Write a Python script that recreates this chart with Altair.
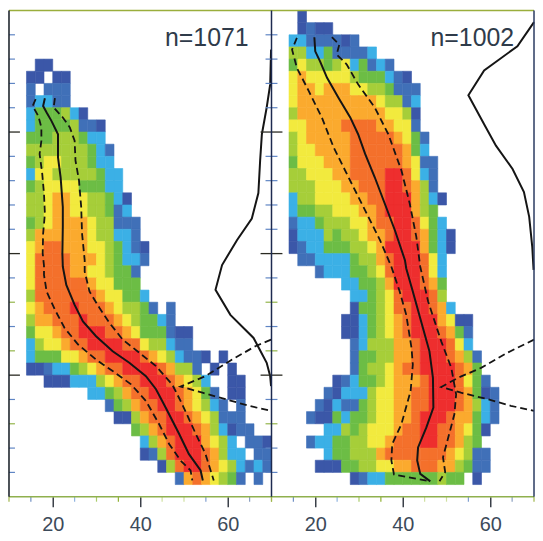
import altair as alt
import pandas as pd

# heat-map cells: first column index per row, then colour level per column ('.' = empty)
left_rows = {
    4: (3, "00"), 5: (2, "00.00"), 6: (2, "1.111"), 7: (2, "12211"),
    8: (2, "2333420"), 9: (2, "233334110"), 10: (2, "333444322"),
    11: (2, "4444444321"), 12: (2, "3455444322"), 13: (2, "25544444322"),
    14: (2, "34555533322"), 15: (2, "445665544320"), 16: (2, "445665544312"),
    17: (2, "3456666544111"), 18: (2, "4666666544221"), 19: (2, "56776665543210"),
    20: (2, "57777666543221"), 21: (2, "5777766554331"), 22: (2, "5777777655333"),
    23: (2, "47777777655332"), 24: (2, "56777877765443" + "1.1"),
    25: (2, "46677787776543321"), 26: (2, "3556778887765333100"),
    27: (2, "2455677888877544211"), 28: (2, "233355677888876542110.0"),
    29: (2, "00122345677888876441.0.0"), 30: (4, "000222456778887654" + "2..00"),
    31: (9, "223467788876531.00"), 32: (11, "13467788765421.1"),
    33: (12, "004677887654111"), 34: (14, "34678887642011"),
    35: (15, "24678886542.110"), 36: (15, "014788876422.11"),
    37: (17, "0478876542121"), 38: (19, "16765431.1"),
}
right_rows = {
    0: (3, "0"), 1: (3, "0100"), 2: (2, "22111101"), 3: (2, "4422311112"),
    4: (2, "354434523121"), 5: (2, "56555554333210"), 6: (2, "566566655443111"),
    7: (2, "566666666654412"), 8: (2, "466666666665540"), 9: (2, "556666777766551"),
    10: (2, "4566666777776531"), 11: (2, "4556666777777632"), 12: (2, "35556667777776511"),
    13: (2, "44555667777887521"), 14: (2, "44455566777887641"), 15: (2, "244555566778886420"),
    16: (2, "23344555667888643"), 17: (2, "122344455677887532"), 18: (2, "0222434456678876320"),
    19: (2, "0122333445688886320"), 20: (3, "11222234467888752"), 21: (5, "122233457888752"),
    22: (8, "223346888763"), 23: (9, "22345788874"), 24: (9, "033457788762"),
    25: (8, "002345678886500"), 26: (8, "002345678887631"), 27: (9, "12444667888752"),
    28: (9, "133446678887641"), 29: (9, "134456778888763"), 30: (7, "012334566678887531"),
    31: (6, "10222455667788876301"), 32: (5, "102113455667788876421"),
    33: (4, "1003233455667888766321"), 34: (6, "2243455567788776530"),
    35: (4, "12233445567778877643"), 36: (6, "2334446777777765411"),
    37: (5, "00033445566777664311"), 38: (9, "0122333333433.0"),
}
level_colors = ["#3b57a8", "#4070b8", "#3bb0e6", "#6cbd45", "#a6ce39",
                "#f2ea3e", "#fbaa2e", "#f4702b", "#ee2e2e"]

# curves: (x, altitude)
L_med_x = [18.2,17.8,18.6,19.7,21.2,21.2,21.8,22.3,22.3,22.2,22.3,23.1,25.0,26.9,29.9,33.7,37.5,41.3,43.6,45.8,48.9,51.1,53.8,54.3]
L_med_y = [16.39,16.07,15.80,15.46,14.91,13.96,13.14,11.92,11.10,10.01,9.46,8.71,7.89,7.21,6.60,5.98,5.51,4.96,4.42,3.67,2.58,1.76,1.08,0.67]
L_lo_x = [16.1,15.4,16.7,17.4,17.4,17.0,17.6,18.0,18.2,17.8,17.7,18.0,18.0,18.6,20.5,22.7,25.8,29.9,33.7,37.9,41.3,44.3,46.6,49.2,51.5,51.9]
L_lo_y = [16.35,16.07,15.66,15.19,14.64,14.10,13.28,12.46,11.64,10.82,10.01,9.50,9.12,8.44,7.69,6.94,6.26,5.64,5.17,4.62,3.94,2.99,2.17,1.49,1.08,0.67]
L_hi_x = [20.5,20.2,22.3,23.9,25.0,25.2,26.0,26.5,26.7,27.3,27.3,28.4,30.7,33.0,36.0,39.8,43.6,47.3,49.6,52.7,54.9,56.8]
L_hi_y = [16.39,16.01,15.60,15.19,14.64,13.82,13.01,11.92,10.82,9.73,9.26,8.44,7.76,7.14,6.46,5.92,5.37,4.62,3.80,2.58,1.76,0.67]
L_prof_x = [69.9,69.7,68.9,67.8,67.4,67.0,65.5,62.1,58.7,57.2,60.6,65.9,68.9,69.7,69.9]
L_prof_y = [18.39,16.96,16.01,14.91,13.82,12.49,11.44,10.55,9.53,8.51,7.48,6.53,5.51,4.96,4.55]
L_wedge_x = [69.9,66.3,61.0,54.9,49.2,54.2,59.5,64.8,69.9]
L_wedge_y = [6.46,6.19,5.64,4.96,4.53,4.28,4.01,3.74,3.53]

R_med_x = [19.8,20.0,21.1,22.7,25.3,28.0,29.8,31.4,33.6,35.9,38.2,40.5,40.8,42.3,44.2,46.1,46.9,47.0,45.4,43.5,43.3,44.0,46.3]
R_med_y = [18.90,18.32,17.91,17.23,16.41,15.60,14.91,14.10,13.14,12.05,10.96,9.73,9.39,8.44,7.21,5.98,4.89,3.67,2.85,2.03,1.49,0.94,0.63]
R_lo_x = [15.8,14.7,15.8,18.5,21.5,24.2,27.6,31.4,34.8,37.4,39.3,40.8,42.0,42.3,41.8,39.7,37.6,37.4,38.0,46.1]
R_lo_y = [18.87,18.39,17.64,16.69,15.60,14.37,13.14,11.78,10.55,9.46,8.44,7.48,6.12,5.44,4.35,2.99,2.17,1.49,0.91,0.64]
R_hi_x = [23.8,25.5,24.9,27.2,29.8,33.6,36.7,39.7,41.6,43.1,44.0,45.8,48.8,51.1,52.2,51.8,49.2,49.7,48.4]
R_hi_y = [18.90,18.60,18.19,17.78,16.96,16.01,14.91,13.42,12.05,10.69,9.46,8.03,6.39,5.30,4.21,3.39,1.62,1.01,0.64]
R_prof_x = [70.0,66.2,58.6,55.0,58.6,61.3,65.1,67.7,68.9,69.6,69.9]
R_prof_y = [19.52,18.53,17.53,16.51,15.32,14.44,13.48,12.53,11.51,10.28,9.33]
R_wedge_x = [70.0,63.9,57.9,52.6,48.8,53.3,59.4,64.7,70.0]
R_wedge_y = [6.46,5.92,5.30,4.89,4.51,4.28,4.01,3.74,3.53]

x_major = [20, 40, 60]
x_minor = [10, 15, 25, 30, 35, 45, 50, 55, 65, 70]
x_minor_colors = ["#9fb54a", "#6f8fc4", "#8fb4e0", "#a9cc6a", "#8fb030", "#cfe0a0", "#cfe0a0", "#7f9fd0", "#8a9fc0", "#9fb54a"]
y_major = [5, 10, 15]
y_minor = [1, 2, 3, 4, 6, 7, 8, 9, 11, 12, 13, 14, 16, 17, 18, 19]
y_minor_colors = ["#5f85c4", "#5f85c4", "#93b54a", "#5f85c4", "#93b54a", "#5f85c4", "#93b54a", "#5f85c4",
                  "#5f85c4", "#5f85c4", "#5f85c4", "#5f85c4", "#5f85c4", "#5f85c4", "#5f85c4", "#5f85c4"]

# the two panels share one plot area: the right panel's x values are drawn 60 units further on
OFFSET = 60
W, H = 528, 489
PW = W // 2
X_SCALE = alt.Scale(domain=[10, 10 + 2 * OFFSET], nice=False, zero=False)
Y_SCALE = alt.Scale(domain=[0, 20], nice=False, zero=False)
X_AXIS = alt.Axis(values=x_major + [v + OFFSET for v in x_major], grid=False, domain=False,
                  tickSize=10, tickWidth=1.5, tickColor="#3a3f48",
                  labelFontSize=20, labelFont="Liberation Sans", labelColor="#3c4a5a", labelPadding=8,
                  labelFlush=False, labelExpr=f"datum.value > 70 ? datum.value - {OFFSET} : datum.value",
                  title=None)
LEVEL_SCALE = alt.Scale(domain=list(range(9)), range=level_colors)


def cells(rows, off):
    out = []
    for r, (start, levels) in rows.items():
        for i, ch in enumerate(levels):
            if ch != ".":
                c = start + i
                out.append(dict(x=off + 10 + 2 * c, x2=off + 12 + 2 * c, y=20 - 0.5 * r, y2=19.5 - 0.5 * r, level=int(ch)))
    return out


def curves(pairs):
    out = []
    for name, off, xs, ys in pairs:
        out += [dict(s=name, o=i, x=a + off, y=b) for i, (a, b) in enumerate(zip(xs, ys))]
    return pd.DataFrame(out)


heat = alt.Chart(pd.DataFrame(cells(left_rows, 0) + cells(right_rows, OFFSET))).mark_rect(strokeWidth=0.6).encode(
    x=alt.X("x:Q", scale=X_SCALE, axis=X_AXIS),
    x2="x2:Q",
    y=alt.Y("y:Q", scale=Y_SCALE, axis=None),
    y2="y2:Q",
    color=alt.Color("level:O", scale=LEVEL_SCALE, legend=None),
    stroke=alt.Stroke("level:O", scale=LEVEL_SCALE, legend=None),
)
enc = dict(x=alt.X("x:Q", scale=X_SCALE, axis=X_AXIS), y=alt.Y("y:Q", scale=Y_SCALE, axis=None),
           detail="s:N", order="o:Q")
solid = curves([("lm", 0, L_med_x, L_med_y), ("lp", 0, L_prof_x, L_prof_y),
                ("rm", OFFSET, R_med_x, R_med_y), ("rp", OFFSET, R_prof_x, R_prof_y)])
dashed = curves([("ll", 0, L_lo_x, L_lo_y), ("lh", 0, L_hi_x, L_hi_y), ("lw", 0, L_wedge_x, L_wedge_y),
                 ("rl", OFFSET, R_lo_x, R_lo_y), ("rh", OFFSET, R_hi_x, R_hi_y), ("rw", OFFSET, R_wedge_x, R_wedge_y)])
solid_l = alt.Chart(solid).mark_line(color="#151515", strokeWidth=2.0).encode(**enc)
dash_l = alt.Chart(dashed).mark_line(color="#151515", strokeWidth=1.8, strokeDash=[7, 4]).encode(**enc)

minor_x = pd.DataFrame({"x": x_minor + [v + OFFSET for v in x_minor], "c": x_minor_colors * 2})
minor_rule = alt.Chart(minor_x).mark_rule(strokeWidth=1.2).encode(
    x=alt.X("x:Q", scale=X_SCALE, axis=X_AXIS), y=alt.value(H), y2=alt.value(H + 5),
    color=alt.Color("c:N", scale=None))

ymin = pd.DataFrame({"v": y_minor, "c": y_minor_colors})
ymaj = pd.DataFrame({"v": y_major})


def ytick(df, x0, x1, **kw):
    e = dict(y=alt.Y("v:Q", scale=Y_SCALE, axis=None), x=alt.value(x0), x2=alt.value(x1))
    if "c" in df:
        return alt.Chart(df).mark_rule(strokeWidth=1.2).encode(color=alt.Color("c:N", scale=None), **e)
    return alt.Chart(df).mark_rule(strokeWidth=1.3, color="#2a2a22").encode(**e)


ticks = [ytick(ymin, 0, 6), ytick(ymaj, 0, 11),
         ytick(ymin, PW - 6, PW), ytick(ymaj, PW - 11, PW),
         ytick(ymin, PW, PW + 6), ytick(ymaj, PW, PW + 11)]

frame = [
    alt.Chart().mark_rule(color="#9aae3c", strokeWidth=1.5).encode(x=alt.value(0), x2=alt.value(W), y=alt.value(0)),
    alt.Chart().mark_rule(color="#8fb04e", strokeWidth=1.5).encode(x=alt.value(0), x2=alt.value(W), y=alt.value(H)),
    alt.Chart().mark_rule(color="#111820", strokeWidth=1.5).encode(x=alt.value(0), y=alt.value(0), y2=alt.value(H)),
    alt.Chart().mark_rule(color="#1d2a50", strokeWidth=1.5).encode(x=alt.value(PW), y=alt.value(0), y2=alt.value(H)),
    alt.Chart().mark_rule(color="#2a3a60", strokeWidth=1.5).encode(x=alt.value(W), y=alt.value(0), y2=alt.value(H)),
]


def note(text, xp):
    return alt.Chart().mark_text(font="Liberation Sans", fontSize=25, align="right", baseline="alphabetic",
                                 color="#2f3b4a").encode(x=alt.value(xp), y=alt.value(36), text=alt.value(text))


chart = alt.layer(heat, solid_l, dash_l, minor_rule, *ticks, *frame,
                  note("n=1071", 241), note("n=1002", PW + 244)).properties(
    width=W, height=H,
    autosize=alt.AutoSizeParams(type="none"),
    padding={"left": 1, "top": 1, "right": 1, "bottom": 35},
).configure_view(stroke=None)

chart.save("out.html", embed_options={"renderer": "svg", "actions": False})
